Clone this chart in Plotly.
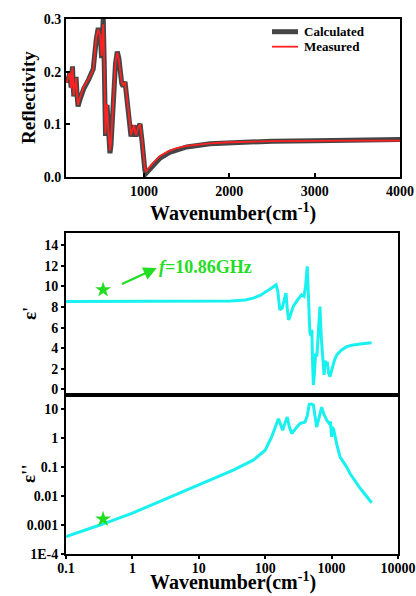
import plotly.graph_objects as go

# ---------- Data ----------
calc_x = [85, 93, 110, 130, 145, 161, 176, 190, 203, 215, 226, 250, 294, 350, 404, 440, 463, 485, 503, 512,
          522, 535, 548, 558, 566, 575, 588, 600, 612, 639, 665, 686, 705, 738, 755, 777, 800, 835, 847, 865,
          882, 895, 906, 930, 953, 975, 992, 1010, 1023, 1050, 1100, 1188, 1300, 1384, 1500, 1775, 2000, 2500,
          3000, 3500, 4000]
calc_y = [0.185, 0.181, 0.185, 0.197, 0.170, 0.210, 0.153, 0.178, 0.190, 0.155, 0.134, 0.148, 0.168, 0.185,
          0.205, 0.262, 0.283, 0.270, 0.226, 0.270, 0.300, 0.200, 0.078, 0.120, 0.137, 0.100, 0.060, 0.045,
          0.060, 0.146, 0.215, 0.238, 0.225, 0.178, 0.172, 0.181, 0.150, 0.096, 0.077, 0.090, 0.098, 0.085,
          0.077, 0.093, 0.101, 0.070, 0.032, 0.012, 0.007, 0.012, 0.022, 0.036, 0.047, 0.052, 0.057, 0.063,
          0.065, 0.068, 0.069, 0.070, 0.071]

meas_x = [85, 93, 110, 130, 145, 161, 176, 190, 203, 215, 226, 250, 294, 350, 404, 440, 463, 485, 503, 512,
          522, 535, 548, 558, 566, 575, 588, 600, 612, 639, 665, 686, 705, 738, 755, 777, 800, 835, 847, 865,
          882, 895, 906, 930, 953, 975, 992, 1010, 1023, 1050, 1100, 1188, 1300, 1384, 1500, 1775, 2000, 2500,
          3000, 3500, 4000]
meas_y = [0.183, 0.180, 0.188, 0.200, 0.168, 0.208, 0.155, 0.180, 0.188, 0.157, 0.137, 0.152, 0.172, 0.186,
          0.203, 0.265, 0.280, 0.268, 0.230, 0.268, 0.290, 0.205, 0.082, 0.125, 0.138, 0.105, 0.066, 0.050,
          0.064, 0.150, 0.218, 0.236, 0.222, 0.180, 0.174, 0.180, 0.152, 0.100, 0.080, 0.092, 0.098, 0.086,
          0.079, 0.094, 0.100, 0.072, 0.036, 0.016, 0.011, 0.016, 0.026, 0.040, 0.050, 0.055, 0.059, 0.064,
          0.066, 0.068, 0.069, 0.069, 0.069]

eps1_x = [0.1, 1, 10, 30, 50, 66, 85, 105, 125, 146, 155, 166, 180, 195, 206, 215, 225, 245, 264, 300, 353,
          384, 405, 430, 445, 470, 490, 505, 515, 531, 550, 575, 600, 630, 668, 700, 740, 770, 800, 830, 860,
          900, 946, 1000, 1100, 1194, 1400, 1687, 2000, 2677, 4000]
eps1_y = [8.54, 8.54, 8.55, 8.60, 8.68, 8.87, 9.15, 9.51, 9.85, 10.17, 9.5, 7.73, 7.9, 8.8, 9.36, 7.8, 6.75,
          7.4, 8.05, 8.6, 9.19, 9.03, 10.0, 11.95, 9.0, 5.6, 5.2, 5.8, 3.0, 0.42, 1.5, 3.5, 3.2, 5.0, 8.05,
          5.0, 2.5, 1.4, 2.8, 2.2, 2.7, 1.6, 1.23, 1.8, 2.8, 3.34, 3.8, 4.15, 4.28, 4.41, 4.53]

eps2_x = [0.1, 0.325, 1, 3.29, 10, 33, 66, 100, 125, 140, 158, 170, 183, 200, 215, 230, 251, 290, 334, 398,
          430, 461, 500, 531, 560, 596, 640, 708, 760, 794, 850, 891, 930, 960, 1000, 1030, 1075, 1200, 1340,
          1687, 1893, 2690, 4015]
eps2_y = [4.0e-4, 1.0e-3, 2.57e-3, 8.4e-3, 0.024, 0.079, 0.174, 0.384, 1.1, 2.2, 4.7, 3.0, 1.86, 3.5, 5.4,
          2.5, 1.44, 2.2, 3.2, 3.6, 6.0, 14.6, 15.0, 14.0, 5.0, 2.4, 4.5, 11.7, 7.0, 5.4, 4.0, 3.6, 3.0, 3.8,
          1.1, 2.4, 2.0, 0.6, 0.226, 0.10, 0.06, 0.0186, 0.0059]

star_x = [0.362]
star_eps1 = [9.68]
star_eps2 = [0.0016]

top_xticks = [1000, 2000, 3000, 4000]
top_yticks = [0.0, 0.1, 0.2, 0.3]
top_yticklabels = ["0.0", "0.1", "0.2", "0.3"]
mid_yticks = [0, 2, 4, 6, 8, 10, 12, 14]
bot_yticks = [1e-4, 1e-3, 1e-2, 1e-1, 1, 10]
bot_yticklabels = ["1E-4", "0.001", "0.01", "0.1", "1", "10"]
bot_xticks = [0.1, 1, 10, 100, 1000, 10000]
bot_xticklabels = ["0.1", "1", "10", "100", "1000", "10000"]
legend_labels = ["Calculated", "Measured"]

# ---------- Styling ----------
W, H = 416, 596
FONT = "Liberation Serif"
CYAN = "#19F0F0"
GREEN = "#22DD22"
CALC_COLOR = "#454545"
MEAS_COLOR = "#FF2222"


def px(v):
    return v / W


def py(v):
    return 1 - v / H


fig = go.Figure()

fig.add_trace(go.Scatter(x=calc_x, y=calc_y, mode="lines", name=legend_labels[0], showlegend=False,
                         line=dict(color=CALC_COLOR, width=5), xaxis="x", yaxis="y"))
fig.add_trace(go.Scatter(x=meas_x, y=meas_y, mode="lines", name=legend_labels[1], showlegend=False,
                         line=dict(color=MEAS_COLOR, width=1.8), xaxis="x", yaxis="y"))
fig.add_trace(go.Scatter(x=eps1_x, y=eps1_y, mode="lines", showlegend=False,
                         line=dict(color=CYAN, width=3), xaxis="x2", yaxis="y2"))
fig.add_trace(go.Scatter(x=eps2_x, y=eps2_y, mode="lines", showlegend=False,
                         line=dict(color=CYAN, width=3), xaxis="x3", yaxis="y3"))
fig.add_trace(go.Scatter(x=star_x, y=star_eps1, mode="markers", showlegend=False,
                         marker=dict(symbol="star", size=12, color=GREEN), xaxis="x2", yaxis="y2"))
fig.add_trace(go.Scatter(x=star_x, y=star_eps2, mode="markers", showlegend=False,
                         marker=dict(symbol="star", size=12, color=GREEN), xaxis="x3", yaxis="y3"))

tickfont = dict(family=FONT, size=14, color="black", weight="bold")
axis_common = dict(showline=True, linewidth=2, linecolor="black", mirror=True, automargin=False,
                   showgrid=False, zeroline=False, tickfont=tickfont, tickcolor="black")

fig.update_layout(
    width=W, height=H,
    margin=dict(l=0, r=0, t=0, b=0, pad=0),
    paper_bgcolor="white", plot_bgcolor="white",
    showlegend=False,
    xaxis=dict(domain=[px(66), px(400)], range=[85, 4000], tickvals=top_xticks,
               ticks="inside", ticklen=4, tickwidth=1.5, anchor="y", **axis_common),
    yaxis=dict(domain=[py(177), py(19)], range=[0, 0.3], tickvals=top_yticks, ticktext=top_yticklabels,
               ticks="inside", ticklen=4, tickwidth=1.5, anchor="x", **axis_common),
    xaxis2=dict(domain=[px(66), px(398)], type="log", range=[-1, 4], showticklabels=False,
                ticks="", anchor="y2", **axis_common),
    yaxis2=dict(domain=[py(395), py(233)], range=[-0.55, 15.2], tickvals=mid_yticks,
                ticks="outside", ticklen=3, tickwidth=2, anchor="x2", **axis_common),
    xaxis3=dict(domain=[px(66), px(398)], type="log", range=[-1, 4], tickvals=bot_xticks,
                ticktext=bot_xticklabels, ticks="outside", ticklen=3, tickwidth=2, anchor="y3",
                ticklabelstandoff=-3, **axis_common),
    yaxis3=dict(domain=[py(554), py(395)], type="log", range=[-4, 1.49], tickvals=bot_yticks,
                ticktext=bot_yticklabels, ticks="outside", ticklen=3, tickwidth=2, anchor="x3",
                **axis_common),
)

# manual legend keys (paper coordinates)
shapes = [
    dict(type="line", xref="paper", yref="paper", x0=px(272), x1=px(298), y0=py(31.7), y1=py(31.7),
         line=dict(color=CALC_COLOR, width=5)),
    dict(type="line", xref="paper", yref="paper", x0=px(272), x1=px(298), y0=py(46.7), y1=py(46.7),
         line=dict(color=MEAS_COLOR, width=1.8)),
]
fig.update_layout(shapes=shapes)

title_font = dict(family=FONT, size=19, color="black", weight="bold")
xtitle_font = dict(family=FONT, size=20, color="black", weight="bold")
legend_font = dict(family=FONT, size=13, color="black", weight="bold")
annotations = [
    dict(text=legend_labels[0], x=px(302), y=py(31.7), xref="paper", yref="paper", showarrow=False,
         font=legend_font, xanchor="left", yanchor="middle"),
    dict(text=legend_labels[1], x=px(302), y=py(46.7), xref="paper", yref="paper", showarrow=False,
         font=legend_font, xanchor="left", yanchor="middle"),
    dict(text="Reflectivity", x=px(28), y=py(98), xref="paper", yref="paper", textangle=-90,
         showarrow=False, font=title_font, xanchor="center", yanchor="middle"),
    dict(text="Wavenumber(cm<sup>-1</sup>)", x=px(233), y=py(212), xref="paper", yref="paper",
         showarrow=False, font=xtitle_font, xanchor="center", yanchor="middle"),
    dict(text="ε'", x=px(29), y=py(314), xref="paper", yref="paper", textangle=-90,
         showarrow=False, font=title_font, xanchor="center", yanchor="middle"),
    dict(text="ε''", x=px(28), y=py(474), xref="paper", yref="paper", textangle=-90,
         showarrow=False, font=title_font, xanchor="center", yanchor="middle"),
    dict(text="Wavenumber(cm<sup>-1</sup>)", x=px(233), y=0, xref="paper", yref="paper",
         showarrow=False, font=xtitle_font, xanchor="center", yanchor="bottom"),
    # arrow pointing toward the label
    dict(text=" ", x=0.366, y=11.8, ax=-0.202, ay=10.1, xref="x2", yref="y2", axref="x2", ayref="y2",
         showarrow=True, arrowhead=2, arrowsize=1.2, arrowwidth=2.2, arrowcolor=GREEN),
    dict(text="<i>f</i>=10.86GHz", x=0.37, y=11.9, xref="x2", yref="y2", showarrow=False,
         xanchor="left", yanchor="middle",
         font=dict(family=FONT, size=18, color=GREEN, weight="bold")),
]
fig.update_layout(annotations=annotations)

fig.write_html("out.html")
